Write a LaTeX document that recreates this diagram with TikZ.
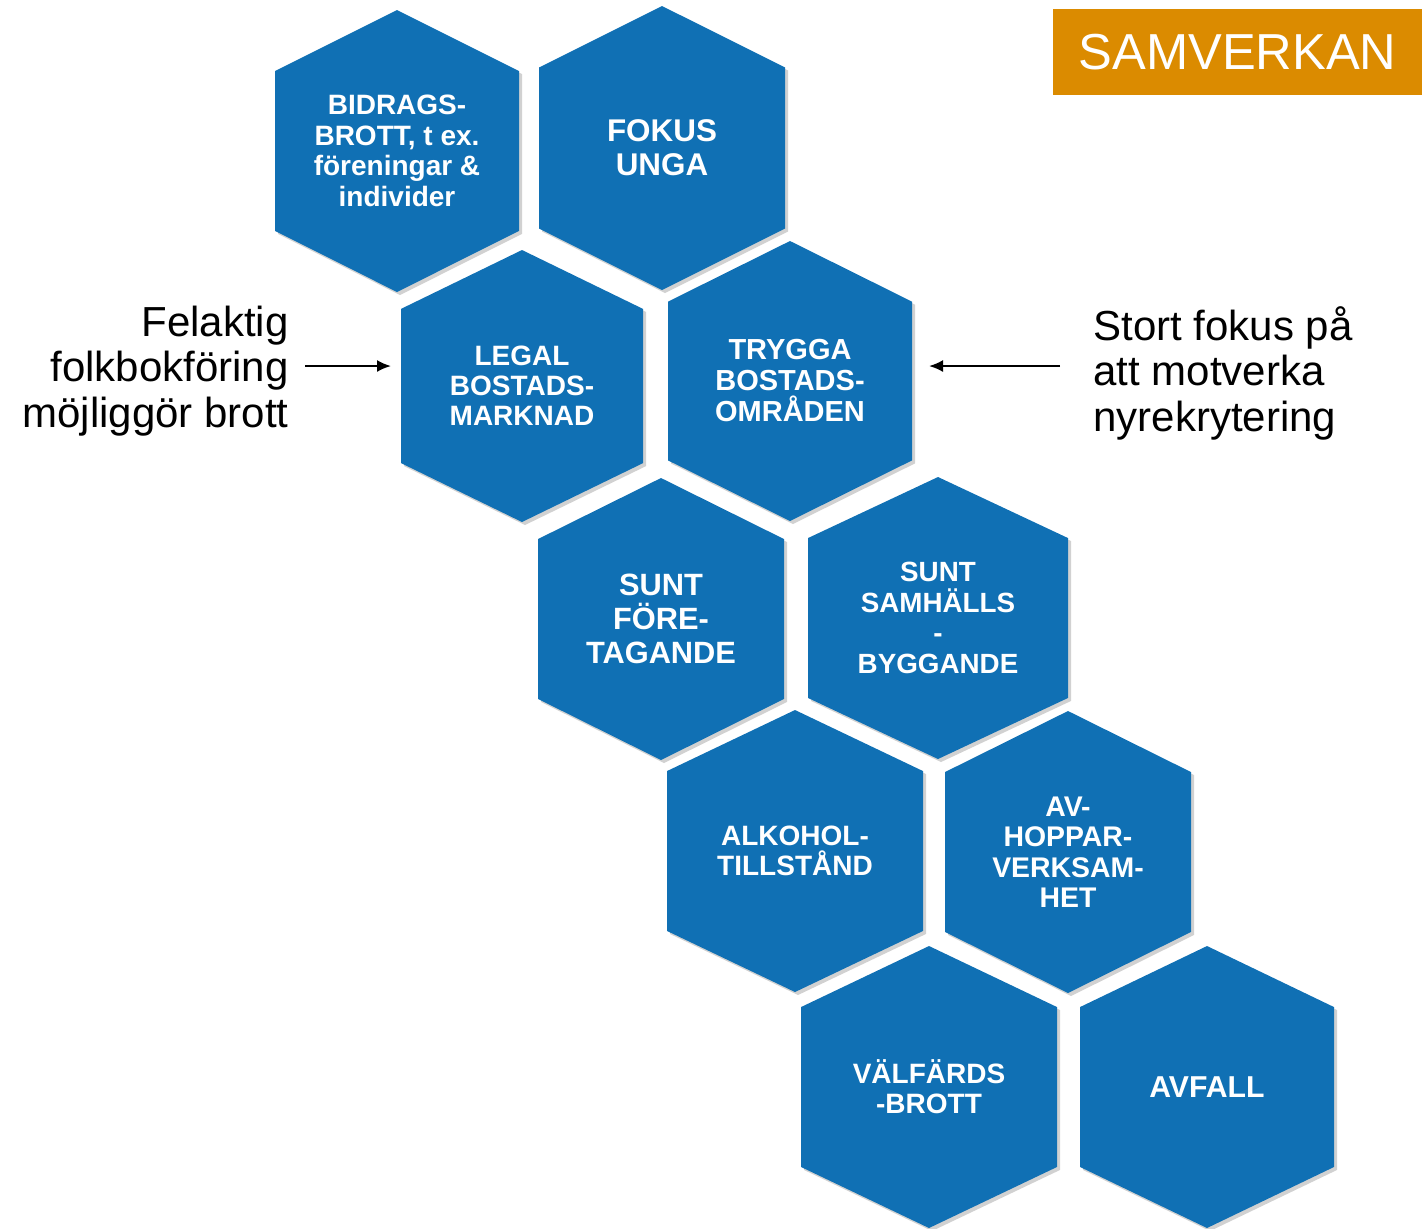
\documentclass[tikz,border=0pt]{standalone}
\usepackage{xcolor}
\usepackage{fontspec}
\setmainfont{Liberation Sans}
\usepackage{tikz}
\usetikzlibrary{shadows,arrows.meta}

\definecolor{hexblue}{RGB}{16,112,180}
\definecolor{samorange}{RGB}{219,139,0}

\tikzset{
	hexa/.style={fill=hexblue, drop shadow={shadow xshift=1.5pt, shadow yshift=-1.5pt, opacity=.3, fill=black!60}},
	hextext/.style={text=white, align=center, inner sep=0pt},
	sidetext/.style={inner sep=0pt, font=\fontsize{21}{22.75}\selectfont},
	pil/.style={-{Latex[length=7pt, width=6pt]}, line width=1pt}
}

\begin{document}
\begin{tikzpicture}[x=0.5pt, y=-0.5pt]

			\useasboundingbox (0,0) rectangle (1422,1228);

			\foreach \x/\y/\w/\h/\n/\s/\ls/\txt in {
				397/151/122/141/bidrag/14/15.25/{BIDRAGS-\\BROTT, t ex.\\föreningar \&\\individer},
				662/148/123/142/fokus/15.7/17/{FOKUS\\UNGA},
				522/386/121/136/legal/14/15/{LEGAL\\BOSTADS-\\MARKNAD},
				790/381/122/140/trygga/14.5/15.5/{TRYGGA\\BOSTADS-\\OMRÅDEN},
				661/619/123/141/foretag/15.4/17/{SUNT\\FÖRE-\\TAGANDE},
				938/618/130/141/samhall/13.9/15.2/{SUNT\\SAMHÄLLS\\-\\BYGGANDE},
				795/851/128/141/alkohol/14/15/{ALKOHOL-\\TILLSTÅND},
				1068/852/123/141/avhopp/14.2/15.25/{AV-\\HOPPAR-\\VERKSAM-\\HET},
				929/1087/128/141/valfard/14/15/{VÄLFÄRDS\\-BROTT},
				1207/1087/127/141/avfall/15.1/16/{AVFALL}} {
				\fill[hexa] (\x,\y-\h) -- (\x+\w,\y-0.567*\h) -- (\x+\w,\y+0.567*\h) -- (\x,\y+\h)
					-- (\x-\w,\y+0.567*\h) -- (\x-\w,\y-0.567*\h) -- cycle;
				\coordinate (\n-w) at (\x-\w,\y);
				\coordinate (\n-e) at (\x+\w,\y);
				\node[hextext, font=\bfseries\fontsize{\s}{\ls}\selectfont] (\n) at (\x,\y) {\txt};
			}

			\node[sidetext, anchor=east, align=right] (felaktig) at (289,371) {Felaktig\\folkbokföring\\möjliggör brott};
			\node[sidetext, anchor=west, align=left] (stortfokus) at (1093,373) {Stort fokus på\\att motverka\\nyrekrytering};

			\coordinate (pilA) at (305,366);
			\coordinate (pilB) at (1060,366);
			\draw[pil, shorten >=5pt] (pilA) -- (pilA -| legal-w);
			\draw[pil, shorten >=8.5pt] (pilB) -- (pilB -| trygga-e);

			\node[fill=samorange, text=white, minimum width=184.5pt, minimum height=43pt, inner sep=0pt,
				font=\fontsize{25.3}{30}\selectfont] (samverkan) at (1237.5,52) {SAMVERKAN};
		\end{tikzpicture}
\end{document}
